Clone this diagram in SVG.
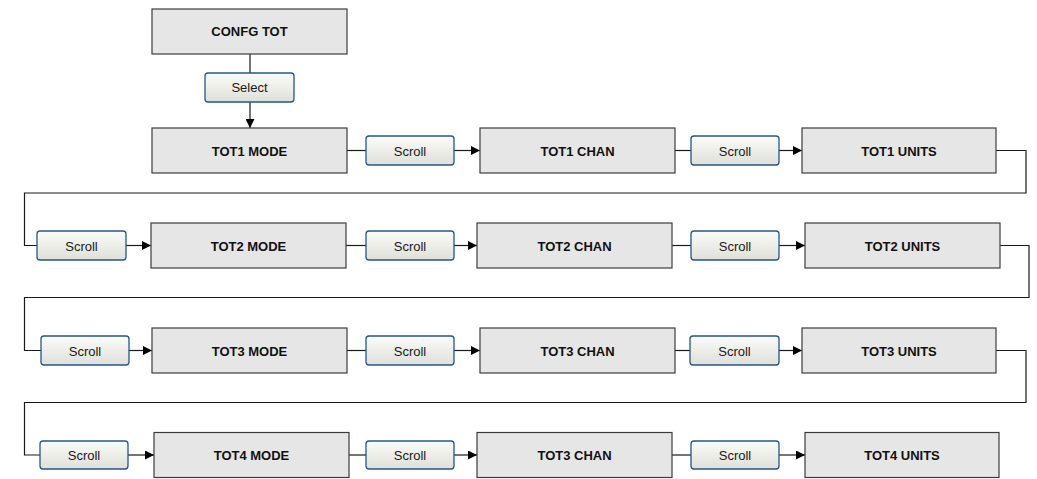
<svg xmlns="http://www.w3.org/2000/svg" width="1037" height="479" viewBox="0 0 1037 479">
<defs>
<linearGradient id="btn" x1="0" y1="0" x2="0" y2="1">
<stop offset="0" stop-color="#fbfbf8"/>
<stop offset="1" stop-color="#e0e0da"/>
</linearGradient>
<marker id="arr" viewBox="0 0 10 10" refX="10" refY="5" markerWidth="9" markerHeight="9" markerUnits="userSpaceOnUse" orient="auto">
<path d="M0,0 L10,5 L0,10 z" fill="#000"/>
</marker>
<style>
.box{fill:#e6e6e6;stroke:#3c3c3c;stroke-width:1.2}
.btn{fill:url(#btn);stroke:#24578a;stroke-width:1.3}
.bt{font-family:"Liberation Sans",Arial,sans-serif;font-size:13px;font-weight:bold;fill:#111;text-anchor:middle}
.st{font-family:"Liberation Sans",Arial,sans-serif;font-size:13px;fill:#1a1a1a;text-anchor:middle}
.ln{fill:none;stroke:#1a1a1a;stroke-width:1.2}
.ar{marker-end:url(#arr)}
</style>
</defs>
<rect width="1037" height="479" fill="#fff"/>
<g id="connectors">
<path class="ln" d="M250,54 V73"/>
<path class="ln ar" d="M250,102 V128"/>
<path class="ln" d="M347,150.5 H366"/>
<path class="ln ar" d="M454,150.5 H480"/>
<path class="ln" d="M675,150.5 H691"/>
<path class="ln ar" d="M779,150.5 H802"/>
<path class="ln" d="M996,150.5 H1026 V193 H24.5 V245.5 H37"/>
<path class="ln ar" d="M126,245.5 H151"/>
<path class="ln" d="M346,245.5 H366"/>
<path class="ln ar" d="M454,245.5 H477"/>
<path class="ln" d="M672,245.5 H691"/>
<path class="ln ar" d="M779,245.5 H805"/>
<path class="ln" d="M1000,245.5 H1029 V297.5 H24.5 V350.5 H41"/>
<path class="ln ar" d="M129,350.5 H152"/>
<path class="ln" d="M347,350.5 H366"/>
<path class="ln ar" d="M454,350.5 H480"/>
<path class="ln" d="M675,350.5 H690"/>
<path class="ln ar" d="M779,350.5 H802"/>
<path class="ln" d="M996,350.5 H1026 V402.5 H24.5 V455 H40"/>
<path class="ln ar" d="M128,455 H154"/>
<path class="ln" d="M349,455 H366"/>
<path class="ln ar" d="M454,455 H477"/>
<path class="ln" d="M672,455 H691"/>
<path class="ln ar" d="M779,455 H805"/>
</g>
<g id="confg-tot"><rect class="box" x="152" y="9" width="195" height="45"/><text class="bt" x="249.5" y="36">CONFG TOT</text></g>
<g id="select"><rect class="btn" x="205" y="73" width="89" height="29" rx="3"/><text class="st" x="249.5" y="92">Select</text></g>

<g id="tot1-mode"><rect class="box" x="152" y="128" width="195" height="45"/><text class="bt" x="249.5" y="155.5">TOT1 MODE</text></g>
<g id="scroll-1a"><rect class="btn" x="366" y="136" width="88" height="29" rx="3"/><text class="st" x="410" y="155.5">Scroll</text></g>
<g id="tot1-chan"><rect class="box" x="480" y="128" width="195" height="45"/><text class="bt" x="577.5" y="155.5">TOT1 CHAN</text></g>
<g id="scroll-1b"><rect class="btn" x="691" y="136" width="88" height="29" rx="3"/><text class="st" x="735" y="155.5">Scroll</text></g>
<g id="tot1-units"><rect class="box" x="802" y="128" width="194" height="45"/><text class="bt" x="899" y="155.5">TOT1 UNITS</text></g>

<g id="scroll-2r"><rect class="btn" x="37" y="231" width="89" height="29" rx="3"/><text class="st" x="81.5" y="250.5">Scroll</text></g>
<g id="tot2-mode"><rect class="box" x="151" y="223" width="195" height="45"/><text class="bt" x="248.5" y="250.5">TOT2 MODE</text></g>
<g id="scroll-2a"><rect class="btn" x="366" y="231" width="88" height="29" rx="3"/><text class="st" x="410" y="250.5">Scroll</text></g>
<g id="tot2-chan"><rect class="box" x="477" y="223" width="195" height="45"/><text class="bt" x="574.5" y="250.5">TOT2 CHAN</text></g>
<g id="scroll-2b"><rect class="btn" x="691" y="231" width="88" height="29" rx="3"/><text class="st" x="735" y="250.5">Scroll</text></g>
<g id="tot2-units"><rect class="box" x="805" y="223" width="195" height="45"/><text class="bt" x="902.5" y="250.5">TOT2 UNITS</text></g>

<g id="scroll-3r"><rect class="btn" x="41" y="336" width="88" height="29" rx="3"/><text class="st" x="85" y="355.5">Scroll</text></g>
<g id="tot3-mode"><rect class="box" x="152" y="328" width="195" height="45"/><text class="bt" x="249.5" y="355.5">TOT3 MODE</text></g>
<g id="scroll-3a"><rect class="btn" x="366" y="336" width="88" height="29" rx="3"/><text class="st" x="410" y="355.5">Scroll</text></g>
<g id="tot3-chan"><rect class="box" x="480" y="328" width="195" height="45"/><text class="bt" x="577.5" y="355.5">TOT3 CHAN</text></g>
<g id="scroll-3b"><rect class="btn" x="690" y="336" width="89" height="29" rx="3"/><text class="st" x="734.5" y="355.5">Scroll</text></g>
<g id="tot3-units"><rect class="box" x="802" y="328" width="194" height="45"/><text class="bt" x="899" y="355.5">TOT3 UNITS</text></g>

<g id="scroll-4r"><rect class="btn" x="40" y="441" width="88" height="28" rx="3"/><text class="st" x="84" y="460">Scroll</text></g>
<g id="tot4-mode"><rect class="box" x="154" y="432.5" width="195" height="45"/><text class="bt" x="251.5" y="460">TOT4 MODE</text></g>
<g id="scroll-4a"><rect class="btn" x="366" y="441" width="88" height="28" rx="3"/><text class="st" x="410" y="460">Scroll</text></g>
<g id="tot4-chan"><rect class="box" x="477" y="432.5" width="195" height="45"/><text class="bt" x="574.5" y="460">TOT3 CHAN</text></g>
<g id="scroll-4b"><rect class="btn" x="691" y="441" width="88" height="28" rx="3"/><text class="st" x="735" y="460">Scroll</text></g>
<g id="tot4-units"><rect class="box" x="805" y="432.5" width="194" height="45"/><text class="bt" x="902" y="460">TOT4 UNITS</text></g>
</svg>
